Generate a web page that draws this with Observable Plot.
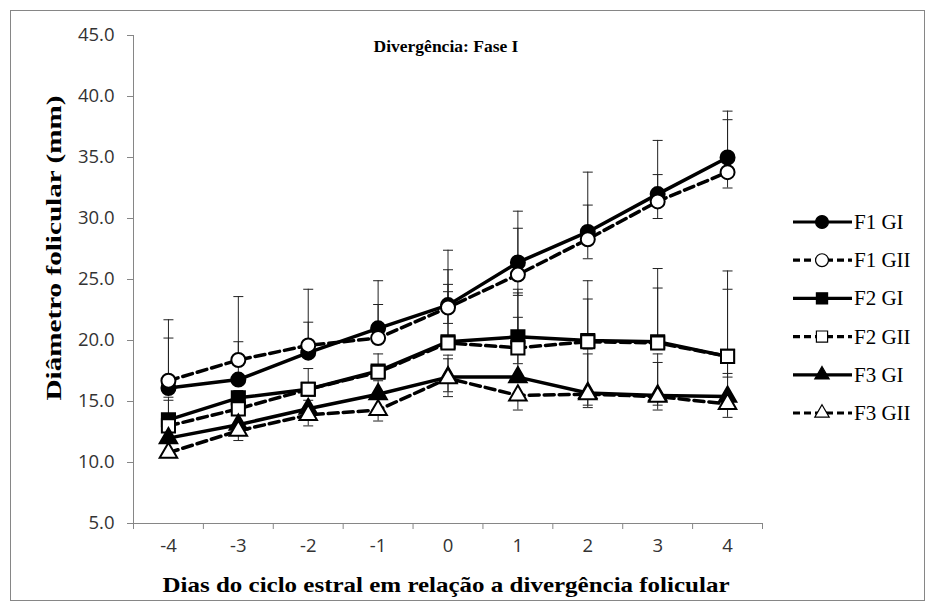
<!DOCTYPE html>
<html><head><meta charset="utf-8">
<script src="https://cdn.jsdelivr.net/npm/d3@7"></script>
<script src="https://cdn.jsdelivr.net/npm/@observablehq/plot@0.6"></script>
<style>
html,body{margin:0;padding:0;background:#fff;}
#chart svg{display:block;}
#chart svg g[aria-label$="tick label"], #chart svg g[aria-label$="tick label"] text {
  font-size: 18.5px !important; font-family: 'Open Sans', 'Noto Sans', sans-serif !important; fill: #333;
}
</style></head><body><div id="chart"></div>
<script>
// ---- data ----
const days = [-4, -3, -2, -1, 0, 1, 2, 3, 4];
const yTicks = [5, 10, 15, 20, 25, 30, 35, 40, 45];
const seriesNames = ["F1 GI", "F1 GII", "F2 GI", "F2 GII", "F3 GI", "F3 GII"];

const f1gi  = [16.1, 16.8, 19.0, 21.0, 22.9, 26.4, 28.9, 32.0, 35.0];
const f1gii = [16.7, 18.4, 19.6, 20.2, 22.7, 25.4, 28.3, 31.4, 33.8];
const f2gi  = [13.5, 15.3, 16.0, 17.5, 19.9, 20.3, 20.0, 19.9, 18.7];
const f2gii = [13.0, 14.4, 16.0, 17.4, 19.8, 19.4, 19.9, 19.8, 18.7];
const f3gi  = [12.0, 13.1, 14.4, 15.6, 17.0, 17.0, 15.7, 15.5, 15.4];
const f3gii = [10.8, 12.6, 13.9, 14.3, 16.9, 15.5, 15.6, 15.4, 14.8];

// error bar ends (upper / lower), null = not shown
const f1giHi  = [21.7, 19.9, 24.2, 24.9, 27.4, 30.6, 33.8, 36.4, 38.8];
const f1giLo  = [null, null, null, null, null, null, null, null, null];
const f1giiHi = [20.2, 23.6, 21.5, 22.95, 25.8, 29.2, 31.1, 33.6, 38.1];
const f1giiLo = [null, null, null, null, 21.4, 23.7, 26.7, 30.0, 32.5];
const f2giHi  = [15.35, 15.9, 17.7, 18.9, 24.6, 24.2, 24.9, 25.9, 25.7];
const f2giLo  = [null, null, null, null, null, null, null, null, null];
const f2giiHi = [15.1, null, null, null, 24.0, 23.9, 23.4, 24.3, 24.2];
const f2giiLo = [null, null, null, null, null, 18.1, null, null, 17.0];
const f3giHi  = [null, null, 15.1, 16.7, 18.8, 21.9, 19.3, 18.9, 19.0];
const f3giLo  = [null, null, null, null, 15.8, null, 14.7, 14.7, null];
const f3giiHi = [null, null, null, null, 18.5, null, 18.9, 18.2, 17.3];
const f3giiLo = [null, 11.8, 13.0, 13.4, 15.4, 14.3, 14.5, 14.3, 13.7];

const seriesValues = [f1gi, f1gii, f2gi, f2gii, f3gi, f3gii];
const seriesHi = [f1giHi, f1giiHi, f2giHi, f2giiHi, f3giHi, f3giiHi];
const seriesLo = [f1giLo, f1giiLo, f2giLo, f2giiLo, f3giLo, f3giiLo];
const symbols = ["circle", "circle", "square", "square", "triangle", "triangle"];
const filled = [true, false, true, false, true, false];
const dashed = [false, true, false, true, false, true];
const markR = {circle: 7, square: 7.4, triangle: 6.5};

// ---- build tables ----
const points = [];
const errs = [];
seriesNames.forEach((name, i) => {
  days.forEach((d, j) => {
    const v = seriesValues[i][j];
    points.push({series: name, idx: i, day: d, value: v});
    [seriesHi[i][j], seriesLo[i][j]].forEach(e => {
      if (e != null) errs.push({day: d, y1: v, y2: e});
    });
  });
});

const hline = {draw(ctx, size) { const r = Math.sqrt(size / Math.PI); ctx.moveTo(-r, 0); ctx.lineTo(r, 0); }};
const xTickMarks = d3.range(-4.5, 4.51, 1);

const seriesMarks = [];
seriesNames.forEach((name, i) => {
  const data = points.filter(p => p.idx === i);
  seriesMarks.push(Plot.line(data, {x: "day", y: "value", stroke: "black", strokeWidth: 3.5,
    strokeDasharray: dashed[i] ? "10,5" : null}));
  seriesMarks.push(Plot.dot(data, {x: "day", y: "value", symbol: symbols[i], r: markR[symbols[i]],
    fill: filled[i] ? "black" : "white", stroke: "black", strokeWidth: 2}));
});

const sans = "'Open Sans', 'Noto Sans', sans-serif";
const plot = Plot.plot({
  width: 935, height: 613,
  marginLeft: 133, marginRight: 173, marginTop: 35, marginBottom: 90,
  x: {domain: [-4.5, 4.5]},
  y: {domain: [5, 45]},
  style: {fontFamily: sans, fontSize: "18px", background: "white", color: "#333"},
  marks: [
    Plot.axisY({ticks: yTicks, tickFormat: d => d.toFixed(1), tickSize: 6, tickPadding: 13, stroke: "#868686", fill: "#333", label: null}),
    Plot.axisX({ticks: xTickMarks, tickSize: 6, tickFormat: () => "", stroke: "#868686", label: null}),
    Plot.axisX({ticks: days, tickSize: 0, tickPadding: 15, tickFormat: d => String(d), fill: "#333", label: null}),
    Plot.ruleX([-4.5], {stroke: "#868686"}),
    Plot.ruleY([5], {stroke: "#868686"}),
    Plot.ruleX(errs, {x: "day", y1: "y1", y2: "y2", stroke: "#222", strokeWidth: 1}),
    Plot.dot(errs, {x: "day", y: "y2", symbol: hline, r: 5, stroke: "#222", strokeWidth: 1, fill: "none"}),
    ...seriesMarks
  ]
});
document.getElementById("chart").appendChild(plot);

// ---- frame, titles, legend ----
const svg = d3.select(plot);
svg.insert("rect", ":first-child").attr("x", 10.5).attr("y", 10.5).attr("width", 914).attr("height", 590)
  .attr("fill", "white").attr("stroke", "#868686").attr("stroke-width", 1);

const serif = "'Liberation Serif', 'Times New Roman', serif";
svg.append("text").attr("x", 446).attr("y", 52).attr("text-anchor", "middle")
  .attr("font-family", serif).attr("font-weight", "bold").attr("font-size", 17.5).attr("fill", "black")
  .text("Divergência: Fase I");
svg.append("text").attr("x", 446).attr("y", 592).attr("text-anchor", "middle")
  .attr("font-family", serif).attr("font-weight", "bold").attr("font-size", 22).attr("fill", "black")
  .attr("textLength", 567).attr("lengthAdjust", "spacingAndGlyphs")
  .text("Dias do ciclo estral em relação a divergência folicular");
svg.append("text").attr("transform", "translate(61,248) rotate(-90)").attr("text-anchor", "middle")
  .attr("font-family", serif).attr("font-weight", "bold").attr("font-size", 21).attr("fill", "black")
  .attr("textLength", 305).attr("lengthAdjust", "spacingAndGlyphs")
  .text("Diâmetro folicular (mm)");

const legendSym = {circle: d3.symbolCircle, square: d3.symbolSquare, triangle: d3.symbolTriangle};
const legendSize = {circle: 130, square: 125, triangle: 90};
seriesNames.forEach((name, i) => {
  const y = 222 + i * 38.2;
  const g = svg.append("g");
  g.append("line").attr("x1", 793).attr("x2", 852).attr("y1", y).attr("y2", y)
    .attr("stroke", "black").attr("stroke-width", 3.2)
    .attr("stroke-dasharray", dashed[i] ? "7,4" : null);
  g.append("path").attr("transform", `translate(822,${y})`)
    .attr("d", d3.symbol(legendSym[symbols[i]], legendSize[symbols[i]])())
    .attr("fill", filled[i] ? "black" : "white").attr("stroke", "black").attr("stroke-width", 1.2);
  g.append("text").attr("x", 854).attr("y", y + 7).attr("text-anchor", "start").attr("font-family", serif)
    .attr("font-size", 21).attr("fill", "black").text(name);
});
</script></body></html>
